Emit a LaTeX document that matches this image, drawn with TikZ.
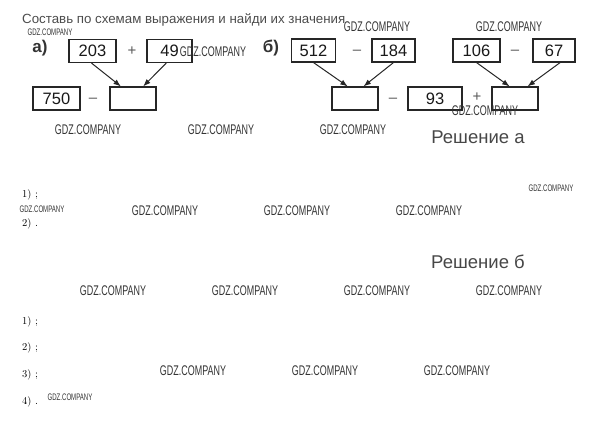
\documentclass[tikz,border=0pt]{standalone}
\usepackage{fontspec}
\newfontfamily\sansf{Liberation Sans}
\usepackage{tikz}
\usetikzlibrary{arrows.meta}
\newcommand{\gdz}{\scalebox{0.64}[1]{GDZ.COMPANY}}

\begin{document}
\begin{tikzpicture}[x=1pt,y=-1pt]
			\tikzstyle{num} = [rectangle, draw=black!85, line width=1.1pt, minimum height=23pt, inner sep=0pt, font=\sansf\fontsize{16.5}{16.5}\selectfont, text=black!90]
			\tikzstyle{op} = [inner sep=0pt, font=\sansf\fontsize{15}{15}\selectfont, text=black!65]
			\tikzstyle{arr} = [-{Latex[length=7.5pt,width=5.5pt]}, line width=1pt, draw=black!85]
			\tikzstyle{wmark} = [inner sep=0pt, font=\sansf\fontsize{14}{14}\selectfont, text=black!80]
			\tikzstyle{wsmall} = [inner sep=0pt, font=\sansf\fontsize{9.5}{9.5}\selectfont, text=black!80]
			\tikzstyle{head} = [inner sep=0pt, font=\sansf\fontsize{18.5}{18.5}\selectfont, text=black!72]
			\tikzstyle{item} = [anchor=west, inner sep=0pt, font=\fontsize{10.5}{12}\selectfont]

			\useasboundingbox (0,0) rectangle (601,426);

			\node [anchor=west, inner sep=0pt, font=\sansf\fontsize{13.3}{13.3}\selectfont, text=black!70] (title) at (22,20) {Составь по схемам выражения и найди их значения};

			\node [inner sep=0pt, font=\sansf\bfseries\fontsize{17}{17}\selectfont, text=black!80] (a) at (40,48) {а)};
			\node [inner sep=0pt, font=\sansf\bfseries\fontsize{17}{17}\selectfont, text=black!80] (b) at (271,48) {б)};

			\node [num, minimum width=47pt] (203) at (92.5,51) {203};
			\node [op, right of=203, node distance=39.5pt] (plus1) {+};
			\node [num, minimum width=45pt, right of=203, node distance=77pt] (49) {49};

			\node [num, minimum width=47pt] (750) at (56.5,98.5) {750};
			\node [op, right of=750, node distance=36.5pt, yshift=-2pt] (minus1) {–};
			\node [num, minimum width=46pt, right of=750, node distance=76.5pt] (s1) {};
			\draw [arr] (203.265) -- (s1.135);
			\draw [arr] (49.255) -- (s1.50);

			\node [num, minimum width=44pt] (512) at (313.5,50.5) {512};
			\node [op, right of=512, node distance=43.5pt, yshift=-2pt] (minus2) {–};
			\node [num, minimum width=43pt, right of=512, node distance=80pt] (184) {184};

			\node [num, minimum width=47pt] (106) at (476.5,50.5) {106};
			\node [op, right of=106, node distance=38.5pt, yshift=-2pt] (minus3) {–};
			\node [num, minimum width=42pt, right of=106, node distance=77.5pt] (67) {67};

			\node [num, minimum width=46pt] (s2) at (355,98.5) {};
			\node [op, right of=s2, node distance=38pt, yshift=-2pt] (minus4) {–};
			\node [num, minimum width=54pt, right of=s2, node distance=80pt] (93) {93};
			\node [op, right of=93, node distance=42pt, yshift=1.5pt] (plus2) {+};
			\node [num, minimum width=46pt, right of=93, node distance=80pt] (s3) {};
			\draw [arr] (512.south) -- (s2.121);
			\draw [arr] (184.south) -- (s2.55);
			\draw [arr] (106.south) -- (s3.114);
			\draw [arr] (67.297) -- (s3.44);

			\node [head] (resha) at (478,137) {Решение а};
			\node [item] (a1) at (22,195) {1) ;};
			\node [item] (a2) at (22,224) {2) .};

			\node [head] (reshb) at (478,262) {Решение б};
			\node [item] (b1) at (22,322) {1) ;};
			\node [item] (b2) at (22,348) {2) ;};
			\node [item] (b3) at (22,375) {3) ;};
			\node [item] (b4) at (22,402) {4) .};

			\node [wsmall] (w1) at (50,32) {\gdz};
			\node [wmark] (w2) at (213,52) {\gdz};
			\node [wmark] (w3) at (377,27) {\gdz};
			\node [wmark] (w4) at (509,27) {\gdz};
			\node [wmark] (w5) at (485,111) {\gdz};
			\node [wmark] (w6) at (88,130) {\gdz};
			\node [wmark] (w7) at (221,130) {\gdz};
			\node [wmark] (w8) at (353,130) {\gdz};
			\node [wsmall] (w9) at (551,188) {\gdz};
			\node [wsmall] (w10) at (42,209) {\gdz};
			\node [wmark] (w11) at (165,211) {\gdz};
			\node [wmark] (w12) at (297,211) {\gdz};
			\node [wmark] (w13) at (429,211) {\gdz};
			\node [wmark] (w14) at (113,291) {\gdz};
			\node [wmark] (w15) at (245,291) {\gdz};
			\node [wmark] (w16) at (377,291) {\gdz};
			\node [wmark] (w17) at (509,291) {\gdz};
			\node [wmark] (w18) at (193,371) {\gdz};
			\node [wmark] (w19) at (325,371) {\gdz};
			\node [wmark] (w20) at (457,371) {\gdz};
			\node [wsmall] (w21) at (70,397) {\gdz};
		\end{tikzpicture}
\end{document}
